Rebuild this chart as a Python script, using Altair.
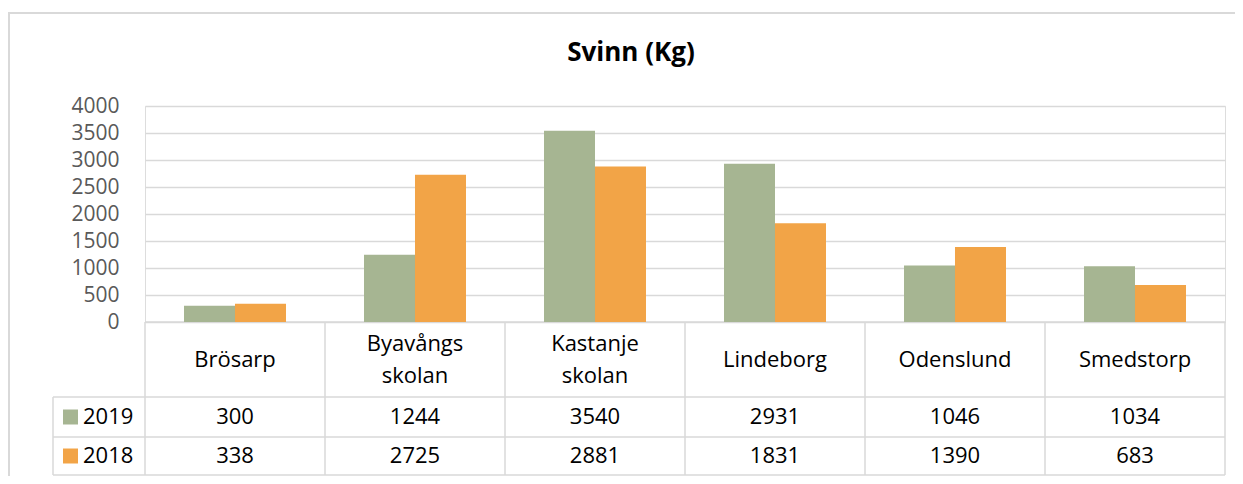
import altair as alt
import pandas as pd

schools = ["Brösarp", "Byavångs\nskolan", "Kastanje\nskolan", "Lindeborg", "Odenslund", "Smedstorp"]
years = ["2019", "2018"]
values_2019 = [300, 1244, 3540, 2931, 1046, 1034]
values_2018 = [338, 2725, 2881, 1831, 1390, 683]
y_ticks = [0, 500, 1000, 1500, 2000, 2500, 3000, 3500, 4000]
colors = ["#A6B592", "#F2A447"]
title_text = "Svinn (Kg)"

rows = []
for s, v in zip(schools, values_2019):
    rows.append({"school": s, "year": "2019", "value": v})
for s, v in zip(schools, values_2018):
    rows.append({"school": s, "year": "2018", "value": v})
df = pd.DataFrame(rows)
schools_df = pd.DataFrame({"school": schools, "lines": [s.count("\n") + 1 for s in schools]})
years_df = pd.DataFrame({"year": years})

FONT = "Open Sans"
GRID = "#D9D9D9"
W, H = 1080, 216
# table row geometry (plot coordinates)
T_TOP, T_HDR, T_R1, T_BOT = H, 291, 331, 369
LEFT_COL = -92
ROW_Y = {"2019": (T_HDR + T_R1) / 2, "2018": (T_R1 + T_BOT) / 2}
LH = 32

xscale = alt.Scale(domain=schools, paddingInner=0, paddingOuter=0)
cscale = alt.Scale(domain=years, range=colors)

base = alt.Chart(df)

bars = base.mark_bar(size=51).encode(
    x=alt.X("school:N", scale=xscale, sort=schools, axis=None),
    xOffset=alt.XOffset("year:N", sort=years,
                        scale=alt.Scale(paddingInner=0, paddingOuter=0.765)),
    y=alt.Y("value:Q", scale=alt.Scale(domain=[0, 4000], nice=False),
            axis=alt.Axis(values=y_ticks, title=None, domain=False, ticks=False,
                          format="d",
                          grid=True, gridColor=GRID, gridWidth=1.5,
                          labelFont=FONT, labelFontSize=21, labelColor="#595959",
                          labelPadding=26)),
    color=alt.Color("year:N", scale=cscale, legend=None),
)

# table vertical lines at column left edges
vlines = alt.Chart(schools_df).mark_rule(color=GRID, strokeWidth=1.5).encode(
    x=alt.X("school:N", scale=xscale, sort=schools, bandPosition=0, axis=None),
    y=alt.value(T_TOP), y2=alt.value(T_BOT),
)
one = schools_df.head(1)
right_line = alt.Chart(one).mark_rule(color=GRID, strokeWidth=1.5).encode(
    x=alt.value(W), y=alt.value(T_TOP), y2=alt.value(T_BOT))
left_line = alt.Chart(one).mark_rule(color=GRID, strokeWidth=1.5).encode(
    x=alt.value(LEFT_COL), y=alt.value(T_HDR), y2=alt.value(T_BOT))

hlines = []
for yy, x0 in [(T_TOP, 0), (T_HDR, LEFT_COL), (T_R1, LEFT_COL), (T_BOT, LEFT_COL)]:
    hlines.append(alt.Chart(one).mark_rule(color=GRID, strokeWidth=1.5).encode(
        x=alt.value(x0), x2=alt.value(W), y=alt.value(yy)))

# outer chart border (top and left)
border_top = alt.Chart(one).mark_rule(color=GRID, strokeWidth=2).encode(
    x=alt.value(-137), x2=alt.value(1100), y=alt.value(-93))
border_left = alt.Chart(one).mark_rule(color=GRID, strokeWidth=2).encode(
    x=alt.value(-136), y=alt.value(-93), y2=alt.value(380))

header_layers = []
for n in [1, 2]:
    header_layers.append(alt.Chart(schools_df).transform_filter(alt.datum.lines == n).mark_text(
        font=FONT, fontSize=22, color="#000000", lineBreak="\n", lineHeight=LH,
        baseline="middle", align="center").encode(
        x=alt.X("school:N", scale=xscale, sort=schools, bandPosition=0.5, axis=None),
        y=alt.value((T_TOP + T_HDR) / 2 - (n - 1) * LH / 2),
        text="school:N",
    ))

value_layers = []
for yr in years:
    value_layers.append(base.transform_filter(alt.datum.year == yr).mark_text(
        font=FONT, fontSize=22, color="#000000", baseline="middle", align="center").encode(
        x=alt.X("school:N", scale=xscale, sort=schools, bandPosition=0.5, axis=None),
        y=alt.value(ROW_Y[yr]),
        text="value:Q",
    ))
    value_layers.append(alt.Chart(years_df).transform_filter(alt.datum.year == yr).mark_square(
        size=225, opacity=1).encode(
        x=alt.value(-74.5), y=alt.value(ROW_Y[yr]),
        color=alt.Color("year:N", scale=cscale, legend=None),
    ))
    value_layers.append(alt.Chart(years_df).transform_filter(alt.datum.year == yr).mark_text(
        font=FONT, fontSize=22, color="#000000", baseline="middle", align="left").encode(
        x=alt.value(-62), y=alt.value(ROW_Y[yr]), text="year:N",
    ))

title = alt.Chart(one).mark_text(
    font=FONT, fontSize=26, fontWeight="bold", color="#000000",
    baseline="middle", align="center", text=title_text).encode(
    x=alt.value(486), y=alt.value(-53))

chart = alt.layer(
    border_top, border_left, *hlines, vlines, right_line, left_line,
    bars, *header_layers, *value_layers, title,
).properties(
    width=W, height=H,
    padding={"left": 137, "top": 98, "right": 10, "bottom": 154},
    autosize=alt.AutoSizeParams(type="none"),
).configure_view(stroke=None).configure(background="white")

chart.save("out.html", embed_options={"renderer": "svg", "actions": False})
